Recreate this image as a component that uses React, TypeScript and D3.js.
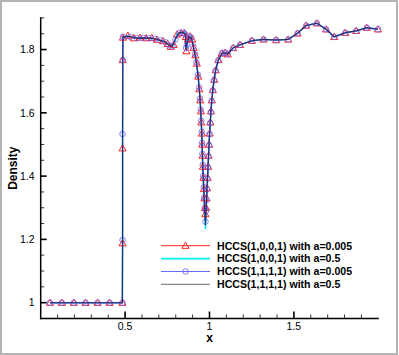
import React from 'react';
import * as d3 from 'd3';

const W = 399;
const H = 355;

// HCCS(1,0,0,1) with a=0.005  (red, triangles)
const xA = [
  0.055, 0.125, 0.196, 0.266, 0.337, 0.408, 0.484,
  0.485, 0.485, 0.486, 0.487,
  0.516, 0.552, 0.589, 0.625, 0.658, 0.690, 0.725, 0.752, 0.770, 0.788, 0.808, 0.833, 0.853, 0.860, 0.863, 0.872, 0.886, 0.898,
  0.906, 0.916, 0.925, 0.933, 0.940, 0.945, 0.949, 0.952, 0.955, 0.957, 0.959, 0.961, 0.964, 0.967, 0.970, 0.973, 0.976,
  0.980, 0.983, 0.986, 0.989, 0.992, 0.995, 0.998, 1.001, 1.005, 1.009, 1.014, 1.020, 1.028, 1.037, 1.053, 1.073, 1.092, 1.108, 1.140, 1.181,
  1.251, 1.320, 1.395, 1.466, 1.521, 1.573, 1.636, 1.691, 1.739, 1.804, 1.869, 1.932, 1.998,
];
const yA = [
  1, 1, 1, 1, 1, 1, 1,
  1.188, 1.488, 1.767, 1.838,
  1.844, 1.836, 1.838, 1.836, 1.837, 1.831, 1.827, 1.818, 1.809, 1.815, 1.848, 1.853, 1.852, 1.840, 1.795, 1.833, 1.842, 1.832,
  1.806, 1.782, 1.756, 1.715, 1.675, 1.640, 1.605, 1.570, 1.535, 1.500, 1.465, 1.430, 1.395, 1.360, 1.330, 1.300, 1.280,
  1.300, 1.330, 1.362, 1.395, 1.430, 1.465, 1.500, 1.535, 1.570, 1.605, 1.640, 1.672, 1.705, 1.735, 1.767, 1.788, 1.790, 1.785, 1.805, 1.815,
  1.828, 1.832, 1.830, 1.832, 1.851, 1.876, 1.883, 1.864, 1.840, 1.853, 1.859, 1.869, 1.864,
];
// HCCS(1,0,0,1) with a=0.5  (cyan), on the xA grid
const yB = [
  1, 1, 1, 1, 1, 1, 1,
  1.190, 1.500, 1.770, 1.840,
  1.843, 1.836, 1.838, 1.836, 1.837, 1.831, 1.827, 1.818, 1.810, 1.816, 1.850, 1.856, 1.858, 1.845, 1.800, 1.834, 1.842, 1.832,
  1.805, 1.780, 1.752, 1.710, 1.670, 1.634, 1.598, 1.561, 1.524, 1.487, 1.450, 1.413, 1.376, 1.340, 1.305, 1.270, 1.232,
  1.280, 1.318, 1.354, 1.390, 1.426, 1.462, 1.498, 1.533, 1.568, 1.603, 1.638, 1.671, 1.704, 1.734, 1.767, 1.788, 1.791, 1.786, 1.805, 1.815,
  1.828, 1.832, 1.830, 1.832, 1.851, 1.876, 1.883, 1.864, 1.840, 1.853, 1.859, 1.869, 1.864,
];
// HCCS(1,1,1,1) with a=0.005  (blue, circles)
const xC = [
  0.055, 0.125, 0.196, 0.266, 0.337, 0.408, 0.484,
  0.485, 0.485, 0.486, 0.487,
  0.530, 0.570, 0.606, 0.640, 0.674, 0.708, 0.740, 0.762, 0.779, 0.798, 0.820, 0.845, 0.857, 0.861, 0.866, 0.878, 0.892,
  0.904, 0.914, 0.923, 0.932, 0.939, 0.944, 0.948, 0.951, 0.954, 0.956, 0.958, 0.960, 0.963, 0.966, 0.969, 0.972, 0.976,
  0.979, 0.982, 0.985, 0.988, 0.991, 0.994, 0.997, 1.000, 1.004, 1.008, 1.013, 1.019, 1.027, 1.036, 1.052, 1.073, 1.092, 1.108, 1.140, 1.181,
  1.251, 1.320, 1.395, 1.466, 1.521, 1.573, 1.636, 1.691, 1.739, 1.804, 1.869, 1.932, 1.998,
];
const yC = [
  1, 1, 1, 1, 1, 1, 1,
  1.198, 1.533, 1.767, 1.840,
  1.840, 1.836, 1.837, 1.836, 1.834, 1.829, 1.823, 1.813, 1.810, 1.832, 1.852, 1.853, 1.848, 1.805, 1.815, 1.840, 1.838,
  1.810, 1.786, 1.760, 1.720, 1.680, 1.645, 1.610, 1.575, 1.540, 1.505, 1.470, 1.435, 1.400, 1.365, 1.332, 1.300, 1.256,
  1.290, 1.324, 1.358, 1.392, 1.428, 1.463, 1.498, 1.533, 1.568, 1.603, 1.638, 1.671, 1.704, 1.734, 1.766, 1.788, 1.790, 1.786, 1.805, 1.815,
  1.828, 1.832, 1.830, 1.832, 1.851, 1.876, 1.883, 1.864, 1.840, 1.853, 1.859, 1.869, 1.864,
];
// HCCS(1,1,1,1) with a=0.5  (dark), on the xC grid
const yD = [
  1, 1, 1, 1, 1, 1, 1,
  1.195, 1.520, 1.768, 1.840,
  1.841, 1.836, 1.837, 1.836, 1.834, 1.829, 1.823, 1.813, 1.810, 1.834, 1.853, 1.854, 1.850, 1.800, 1.815, 1.840, 1.838,
  1.809, 1.784, 1.757, 1.716, 1.676, 1.640, 1.604, 1.568, 1.532, 1.496, 1.460, 1.424, 1.388, 1.352, 1.318, 1.284, 1.245,
  1.284, 1.320, 1.355, 1.390, 1.426, 1.462, 1.497, 1.532, 1.567, 1.602, 1.637, 1.670, 1.703, 1.734, 1.766, 1.788, 1.790, 1.786, 1.805, 1.815,
  1.828, 1.832, 1.830, 1.832, 1.851, 1.876, 1.883, 1.864, 1.840, 1.853, 1.859, 1.869, 1.864,
];

const xTicks = [0.5, 1, 1.5];
const xMinor = [0.1, 0.2, 0.3, 0.4, 0.6, 0.7, 0.8, 0.9, 1.1, 1.2, 1.3, 1.4, 1.6, 1.7, 1.8, 1.9];
const yTicks = [1, 1.2, 1.4, 1.6, 1.8];
const yMinor = [1.05, 1.1, 1.15, 1.25, 1.3, 1.35, 1.45, 1.5, 1.55, 1.65, 1.7, 1.75, 1.85, 1.9];
const legendLabels = [
  'HCCS(1,0,0,1) with a=0.005',
  'HCCS(1,0,0,1) with a=0.5',
  'HCCS(1,1,1,1) with a=0.005',
  'HCCS(1,1,1,1) with a=0.5',
];

const x = d3.scaleLinear().domain([0, 2]).range([40.7, 378.3]);
const y = d3.scaleLinear().domain([0.95, 1.9]).range([318.5, 17.9]);

type P = [number, number];
const zip = (xs: number[], ys: number[]): P[] => xs.map((v, i) => [v, ys[i]]);
const line = d3.line<P>().x((d) => x(d[0])).y((d) => y(d[1]));

const RED = '#ff2020';
const CYAN = '#00f0f0';
const BLUE = '#6a6aff';
const DARK = '#1a2a5c';

const tri = d3.symbol(d3.symbolTriangle, 22)();

const FONT = 'Liberation Sans, Arial, Helvetica, sans-serif';

export default function App() {
  const A = zip(xA, yA);
  const B = zip(xA, yB);
  const C = zip(xC, yC);
  const D = zip(xC, yD);
  const legendY = [245.7, 258.6, 271.5, 284.3];
  const legendSeries = [
    { color: RED, w: 1, mk: 'tri' },
    { color: CYAN, w: 1.6, mk: '' },
    { color: BLUE, w: 1.2, mk: 'circle' },
    { color: '#707070', w: 1, mk: '' },
  ];
  return (
    <svg width={W} height={H} style={{ position: 'absolute', left: 0, top: 0, background: '#fff' }} fontFamily={FONT}>
      <rect x={1} y={1} width={W - 3} height={H - 2} fill="#fff" stroke="#b4b4b4" strokeWidth={2} />
      {/* series */}
      <path d={line(A) || ''} fill="none" stroke={RED} strokeWidth={1} />
      <path d={line(B) || ''} fill="none" stroke={CYAN} strokeWidth={1.4} />
      <path d={line(C) || ''} fill="none" stroke={BLUE} strokeWidth={1.4} />
      {A.map((d, i) => (
        <path key={'ta' + i} d={tri} transform={`translate(${x(d[0])},${y(d[1]) + 0.6})`} fill="none" stroke={RED} strokeWidth={1} />
      ))}
      {C.map((d, i) => (
        <circle key={'cc' + i} cx={x(d[0])} cy={y(d[1])} r={2.8} fill="none" stroke={BLUE} strokeWidth={0.9} opacity={0.9} />
      ))}
      <path d={line(D) || ''} fill="none" stroke={DARK} strokeWidth={1.1} opacity={0.9} />
      {/* axes */}
      <line x1={x(0)} x2={x(0)} y1={17.3} y2={319.2} stroke="#000" strokeWidth={1.5} />
      <line x1={x(0) - 0.75} x2={x(2) + 0.5} y1={318.5} y2={318.5} stroke="#000" strokeWidth={1.5} />
      {yTicks.map((t) => (
        <g key={'yt' + t}>
          <line x1={x(0)} x2={x(0) + 6} y1={y(t)} y2={y(t)} stroke="#000" strokeWidth={1.6} />
          <text x={34.5} y={y(t)} dy="0.35em" textAnchor="end" fontSize={10.5} fill="#000">{String(t)}</text>
        </g>
      ))}
      {yMinor.map((t) => (
        <line key={'ym' + t} x1={x(0)} x2={x(0) + 3.5} y1={y(t)} y2={y(t)} stroke="#000" strokeWidth={0.8} />
      ))}
      {xTicks.map((t) => (
        <g key={'xt' + t}>
          <line x1={x(t)} x2={x(t)} y1={318.5} y2={311.5} stroke="#000" strokeWidth={1.6} />
          <text x={x(t)} y={330} textAnchor="middle" fontSize={10.5} fill="#000">{String(t)}</text>
        </g>
      ))}
      {xMinor.map((t) => (
        <line key={'xm' + t} x1={x(t)} x2={x(t)} y1={318.5} y2={314.5} stroke="#000" strokeWidth={0.8} />
      ))}
      <text x={x(1)} y={342} textAnchor="middle" fontSize={12} fontWeight="bold" fill="#000">x</text>
      <text transform={`translate(16.5,${(17.9 + 318.5) / 2}) rotate(-90)`} textAnchor="middle" fontSize={12} fontWeight="bold" fill="#000">Density</text>
      {/* legend */}
      {legendLabels.map((lab, i) => {
        const s = legendSeries[i];
        const ly = legendY[i];
        return (
          <g key={'lg' + i}>
            <line x1={161} x2={210} y1={ly} y2={ly} stroke={s.color} strokeWidth={s.w} />
            {s.mk === 'tri' && (
              <path d={tri} transform={`translate(185.5,${ly + 0.6})`} fill="none" stroke={RED} strokeWidth={1} />
            )}
            {s.mk === 'circle' && (
              <circle cx={185.5} cy={ly} r={2.8} fill="none" stroke={BLUE} strokeWidth={0.9} />
            )}
            <text x={217} y={ly} dy="0.36em" fontSize={10.6} fontWeight="bold" fill="#000">{lab}</text>
          </g>
        );
      })}
    </svg>
  );
}
